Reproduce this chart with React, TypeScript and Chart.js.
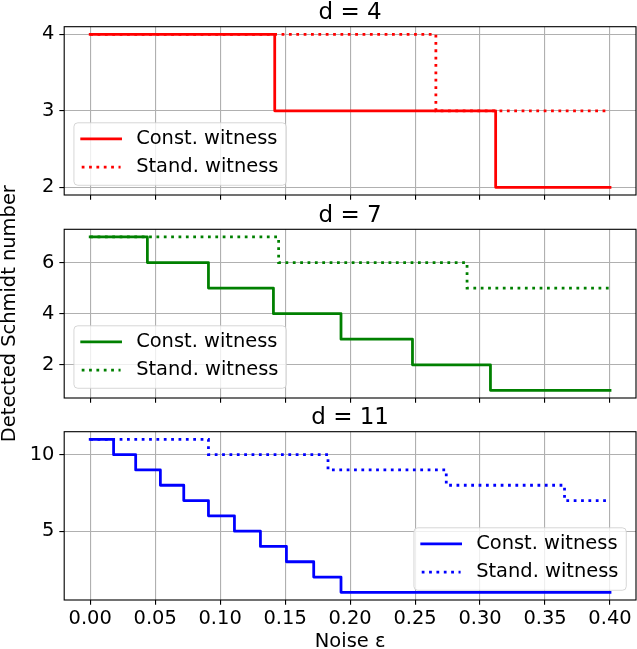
import React, { useEffect, useRef } from 'react';
import { Chart, registerables } from 'chart.js';

Chart.register(...registerables);

// ---------- data ----------
const xTicks = [0, 0.05, 0.1, 0.15, 0.2, 0.25, 0.3, 0.35, 0.4];
const seriesLabels = ['Const. witness', 'Stand. witness'];

// d = 4
const d4ConstEps = [0, 0.142, 0.312, 0.4];
const d4ConstVal = [4, 3, 2, 2];
const d4StandEps = [0, 0.266, 0.4];
const d4StandVal = [4, 3, 3];
const d4YTicks = [2, 3, 4];

// d = 7
const d7ConstEps = [0, 0.044, 0.091, 0.141, 0.193, 0.248, 0.308, 0.4];
const d7ConstVal = [7, 6, 5, 4, 3, 2, 1, 1];
const d7StandEps = [0, 0.145, 0.29, 0.4];
const d7StandVal = [7, 6, 5, 5];
const d7YTicks = [2, 4, 6];

// d = 11
const d11ConstEps = [0, 0.018, 0.035, 0.054, 0.072, 0.091, 0.111, 0.131, 0.151, 0.172, 0.193, 0.4];
const d11ConstVal = [11, 10, 9, 8, 7, 6, 5, 4, 3, 2, 1, 1];
const d11StandEps = [0, 0.091, 0.183, 0.274, 0.365, 0.4];
const d11StandVal = [11, 10, 9, 8, 7, 7];
const d11YTicks = [5, 10];

// ---------- style ----------
const FONT = 'DejaVu Sans';
const PX = 100 / 72;
const FS = 14 * PX;
const TITLE_FS = 23;
const LW = 2 * PX;
const W = 637;
const H = 649;

type Panel = {
  title: string;
  color: string;
  constEps: number[];
  constVal: number[];
  standEps: number[];
  standVal: number[];
  yMin: number;
  yMax: number;
  yTicks: number[];
  legendLoc: 'lower left' | 'lower right';
  top: number;
  bottom: number;
  showX: boolean;
  showYTitle: boolean;
};

const panels: Panel[] = [
  {
    title: 'd = 4', color: '#ff0000',
    constEps: d4ConstEps, constVal: d4ConstVal, standEps: d4StandEps, standVal: d4StandVal,
    yMin: 1.9, yMax: 4.1, yTicks: d4YTicks, legendLoc: 'lower left',
    top: 26.7, bottom: 195, showX: false, showYTitle: false,
  },
  {
    title: 'd = 7', color: '#008000',
    constEps: d7ConstEps, constVal: d7ConstVal, standEps: d7StandEps, standVal: d7StandVal,
    yMin: 0.7, yMax: 7.3, yTicks: d7YTicks, legendLoc: 'lower left',
    top: 229.3, bottom: 398, showX: false, showYTitle: true,
  },
  {
    title: 'd = 11', color: '#0000ff',
    constEps: d11ConstEps, constVal: d11ConstVal, standEps: d11StandEps, standVal: d11StandVal,
    yMin: 0.5, yMax: 11.5, yTicks: d11YTicks, legendLoc: 'lower right',
    top: 431.7, bottom: 600, showX: true, showYTitle: false,
  },
];

const toPts = (xs: number[], ys: number[]) => xs.map((x, i) => ({ x, y: ys[i] }));

const decorPlugin = {
  id: 'mplDecor',
  afterDraw(chart: any, _args: any, opts: any) {
    const { ctx, chartArea: a } = chart;
    ctx.save();
    // spines
    ctx.setLineDash([]);
    ctx.strokeStyle = '#000';
    ctx.lineWidth = 0.8 * PX;
    ctx.strokeRect(a.left, a.top, a.right - a.left, a.bottom - a.top);
    // title
    ctx.fillStyle = '#000';
    ctx.font = `${TITLE_FS}px "${FONT}"`;
    ctx.textAlign = 'center';
    ctx.textBaseline = 'alphabetic';
    ctx.fillText(opts.title, (a.left + a.right) / 2, a.top - 7.4);
    // legend
    ctx.font = `${FS}px "${FONT}"`;
    const ds = chart.data.datasets;
    const tw = Math.max(...ds.map((d: any) => ctx.measureText(d.label).width));
    const pad = 0.4 * FS, hl = 2 * FS, htp = 0.8 * FS, ls = 0.5 * FS, rowH = 18.6, bap = 0.5 * FS;
    const w = pad + hl + htp + tw + pad;
    const h = 2 * pad + ds.length * rowH + (ds.length - 1) * ls;
    const x0 = opts.legendLoc === 'lower right' ? a.right - bap - w : a.left + bap;
    const y0 = a.bottom - bap - h;
    const r = 0.2 * FS;
    ctx.beginPath();
    ctx.moveTo(x0 + r, y0);
    ctx.arcTo(x0 + w, y0, x0 + w, y0 + h, r);
    ctx.arcTo(x0 + w, y0 + h, x0, y0 + h, r);
    ctx.arcTo(x0, y0 + h, x0, y0, r);
    ctx.arcTo(x0, y0, x0 + w, y0, r);
    ctx.closePath();
    ctx.fillStyle = 'rgba(255,255,255,0.8)';
    ctx.fill();
    ctx.strokeStyle = 'rgba(204,204,204,0.8)';
    ctx.lineWidth = 1;
    ctx.stroke();
    ds.forEach((d: any, i: number) => {
      const cy = y0 + pad + rowH / 2 - 1 + i * (rowH + ls);
      ctx.beginPath();
      ctx.strokeStyle = d.borderColor;
      ctx.lineWidth = d.borderWidth;
      ctx.setLineDash(d.borderDash || []);
      ctx.lineCap = d.borderDash ? 'butt' : 'square';
      ctx.moveTo(x0 + pad, cy);
      ctx.lineTo(x0 + pad + hl, cy);
      ctx.stroke();
      ctx.setLineDash([]);
      ctx.fillStyle = '#000';
      ctx.textAlign = 'left';
      ctx.textBaseline = 'alphabetic';
      ctx.fillText(d.label, x0 + pad + hl + htp, cy + 5);
    });
    ctx.restore();
  },
};

function makeConfig(p: Panel): any {
  const tickFont = { family: FONT, size: FS };
  const grid = {
    color: '#b0b0b0',
    lineWidth: 0.8 * PX,
    drawTicks: true,
    tickLength: 3.5 * PX,
    tickColor: '#000',
    tickWidth: 0.8 * PX,
  };
  return {
    type: 'line',
    data: {
      datasets: [
        {
          label: seriesLabels[0],
          data: toPts(p.constEps, p.constVal),
          borderColor: p.color,
          borderWidth: LW,
          stepped: 'before',
          pointRadius: 0,
          borderCapStyle: 'square',
          borderJoinStyle: 'round',
          fill: false,
          order: 1,
        },
        {
          label: seriesLabels[1],
          data: toPts(p.standEps, p.standVal),
          borderColor: p.color,
          borderWidth: LW,
          borderDash: [1 * LW, 1.65 * LW],
          borderCapStyle: 'butt',
          stepped: 'before',
          pointRadius: 0,
          fill: false,
          order: 0,
        },
      ],
    },
    options: {
      responsive: false,
      animation: false,
      events: [],
      layout: { padding: { left: 0, right: 1, top: p.top, bottom: 0 } },
      plugins: {
        legend: { display: false },
        tooltip: { enabled: false },
        title: { display: false },
        mplDecor: { title: p.title, legendLoc: p.legendLoc },
      },
      scales: {
        x: {
          type: 'linear',
          min: -0.02,
          max: 0.42,
          afterBuildTicks: (s: any) => {
            s.ticks = xTicks.map((v) => ({ value: v }));
          },
          afterFit: (s: any) => {
            s.height = H - p.bottom;
          },
          grid,
          border: { display: false },
          ticks: {
            autoSkip: false,
            maxRotation: 0,
            minRotation: 0,
            padding: 2.7,
            font: tickFont,
            color: '#000',
            callback: (v: any) => (p.showX ? Number(v).toFixed(2) : ''),
          },
          title: p.showX
            ? {
                display: true,
                text: 'Noise ε',
                color: '#000',
                font: { family: FONT, size: FS, lineHeight: 1 },
                padding: { top: 0, bottom: -3 },
              }
            : { display: false },
        },
        y: {
          type: 'linear',
          min: p.yMin,
          max: p.yMax,
          afterBuildTicks: (s: any) => {
            s.ticks = p.yTicks.map((v) => ({ value: v }));
          },
          afterFit: (s: any) => {
            s.width = 64.2;
          },
          grid,
          border: { display: false },
          ticks: {
            padding: 3.5 * PX,
            font: tickFont,
            color: '#000',
            callback: (v: any) => String(v),
          },
          title: p.showYTitle
            ? {
                display: true,
                text: 'Detected Schmidt number',
                color: '#000',
                font: { family: FONT, size: FS, lineHeight: 1 },
                padding: { top: 0, bottom: 0 },
              }
            : { display: false },
        },
      },
    },
    plugins: [decorPlugin],
  };
}

function PanelChart({ panel }: { panel: Panel }) {
  const ref = useRef<HTMLCanvasElement>(null);
  useEffect(() => {
    if (!ref.current) return;
    const chart = new Chart(ref.current, makeConfig(panel));
    return () => chart.destroy();
  }, [panel]);
  return (
    <canvas
      ref={ref}
      width={W}
      height={H}
      style={{ position: 'absolute', left: 0, top: 0, width: W, height: H }}
    />
  );
}

export default function App() {
  return (
    <div style={{ position: 'fixed', left: 0, top: 0, width: W, height: H, background: '#fff' }}>
      {panels.map((p) => (
        <PanelChart key={p.title} panel={p} />
      ))}
    </div>
  );
}
